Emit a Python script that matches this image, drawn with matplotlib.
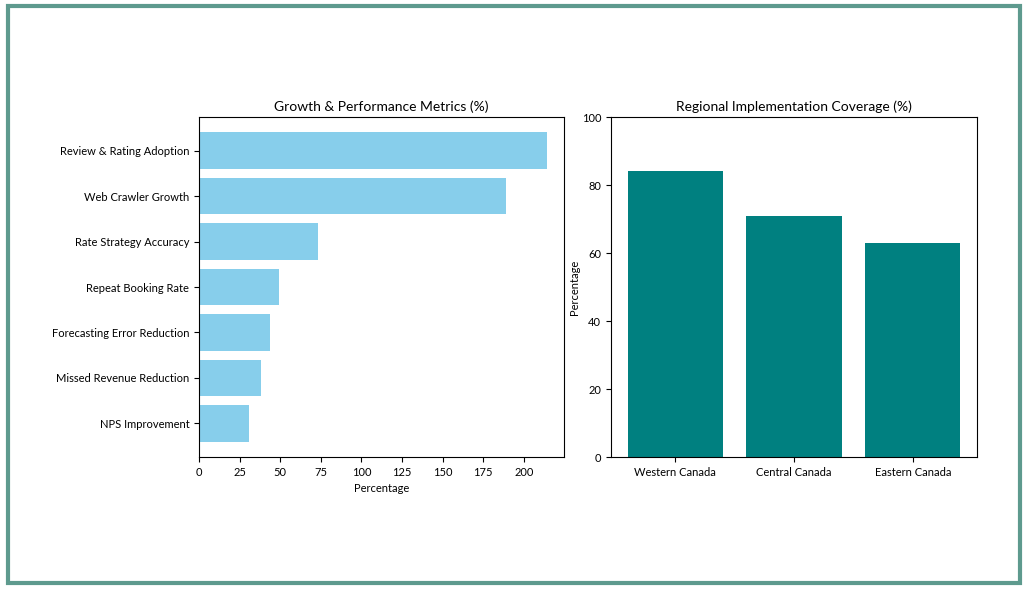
import matplotlib
matplotlib.use("Agg")
import matplotlib.pyplot as plt
from matplotlib.patches import Rectangle

plt.rcParams['font.family'] = ['Lato', 'DejaVu Sans']

metrics = ["Review & Rating Adoption", "Web Crawler Growth", "Rate Strategy Accuracy",
           "Repeat Booking Rate", "Forecasting Error Reduction", "Missed Revenue Reduction",
           "NPS Improvement"]
metric_values = [214, 189, 73, 49, 44, 38, 31]

regions = ["Western Canada", "Central Canada", "Eastern Canada"]
coverage = [84, 71, 63]

fig = plt.figure(figsize=(10.26, 5.89), dpi=100)
W, H = 1026, 589

ax1 = fig.add_axes([199 / W, (H - 457) / H, (564 - 199) / W, 340 / H])
ax2 = fig.add_axes([611 / W, (H - 457) / H, (977 - 611) / W, 340 / H])

ax1.barh(metrics[::-1], metric_values[::-1], color="#87CEEB")
ax1.set_title("Growth & Performance Metrics (%)", fontsize=10, pad=4)
ax1.set_xlabel("Percentage", fontsize=8)
ax1.tick_params(labelsize=8)
ax1.set_xticks(range(0, 201, 25))

ax2.bar(regions, coverage, color="#008080")
ax2.set_title("Regional Implementation Coverage (%)", fontsize=10, pad=4)
ax2.set_ylabel("Percentage", fontsize=8, labelpad=1)
ax2.set_ylim(0, 100)
ax2.tick_params(labelsize=8)

fig.patches.append(Rectangle((8 / W, 6 / H), (1012 / W), (577 / H), transform=fig.transFigure,
                             fill=False, edgecolor="#5E9A8E", linewidth=3))

fig.savefig("out.png", dpi=100)
